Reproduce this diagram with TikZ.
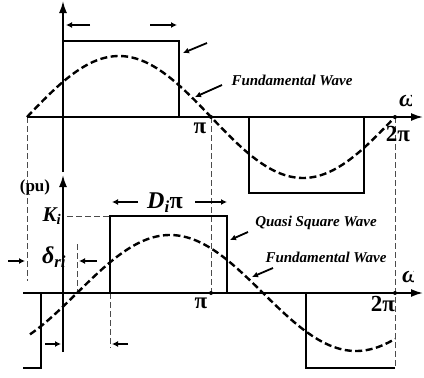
\documentclass[tikz,border=0pt]{standalone}
\usepackage{fontspec}
\setmainfont{Liberation Serif}
\usetikzlibrary{arrows.meta}
\begin{document}
\begin{tikzpicture}[x=1pt,y=-1pt,
  solid line/.style={line width=1.8pt, line join=miter},
  axis/.style={line width=1.8pt, -{Latex[length=12pt,width=8pt]}},
  fund/.style={line width=2.4pt, dash pattern=on 7pt off 3.5pt},
  guide/.style={line width=0.9pt, black!70, dash pattern=on 6pt off 3pt},
  ptr/.style={line width=1.8pt, -{Latex[length=6pt,width=6pt]}},
  dot/.style={circle, fill=black, inner sep=0pt, minimum size=4pt},
  lbl/.style={inner sep=0pt, font=\bfseries\itshape\fontsize{15}{15}\selectfont},
  big/.style={inner sep=0pt, font=\bfseries\fontsize{23}{23}\selectfont},
  bigit/.style={inner sep=0pt, font=\bfseries\itshape\fontsize{24}{24}\selectfont}]
\useasboundingbox (0,0) rectangle (424,378);

% ---------- guides ----------
\draw[guide] (27,117) -- (27,281);
\draw[guide] (211,117) -- (211,293);
\draw[guide] (395,117) -- (395,368);
\draw[guide] (77,244) -- (77,293);
\draw[guide] (110,293) -- (110,348);
\draw[guide] (67,216) -- (110,216);

% ---------- top plot ----------
\draw[axis] (27,117) -- (423,117);
\draw[axis] (63,172) -- (63,1);
\draw[solid line] (63,117) -- (63,41) -- (179,41) -- (179,117);
\draw[solid line] (249,117) -- (249,193) -- (364,193) -- (364,117);
\draw[fund] plot[domain=27:395, samples=120] (\x, {117-61*sin((\x-27)/184*180)});
\node[dot] (pi1) at (211,117) {};
\node[dot] (tpi1) at (395,117) {};
\node[big] (pilab1) at (200,128) {π};
\node[big] (tpilab1) at (398,134) {2π};
\draw[ptr] (90,25) -- (66,25);
\draw[ptr] (150,25) -- (177,25);
\draw[ptr] (207,43) -- (183,53);
\node[lbl] (fw1) at (292,80) {Fundamental Wave};
\draw[ptr] (222,85) -- (195,97);
\begin{scope}
\clip (395,88) rectangle (411,112);
\node[bigit, anchor=west] (om1) at (399,100) {ωt};
\end{scope}

% ---------- bottom plot ----------
\draw[axis] (23,293) -- (423,293);
\draw[axis] (63,352) -- (63,175);
\draw[solid line] (23,368) -- (41,368) -- (41,293);
\draw[solid line] (110,293) -- (110,216) -- (227,216) -- (227,293);
\draw[solid line] (306,293) -- (306,368) -- (395,368);
\draw[fund] plot[domain=30:395, samples=120] (\x, {293-58*sin((\x-77)/186*180)});
\node[dot] (pi2) at (211,293) {};
\node[dot] (tpi2) at (395,293) {};
\node[big] (pilab2) at (201,303) {π};
\node[big] (tpilab2) at (383,304) {2π};
\node[inner sep=0pt, font=\bfseries\fontsize{17}{17}\selectfont] (pu) at (35,187) {(pu)};
\node[inner sep=0pt, font=\bfseries\itshape\fontsize{21}{21}\selectfont] (ki) at (52,216) {K\textsubscript{i}};
\node[bigit] (dipi) at (165,203) {D\textsubscript{i}\textup{π}};
\node[bigit] (dri) at (54,257) {δ\textsubscript{ri}};
\draw[ptr] (138,202) -- (112,202);
\draw[ptr] (195,202) -- (227,202);
\draw[ptr] (8,261) -- (25,261);
\draw[ptr] (97,261) -- (79,261);
\draw[ptr] (45,344) -- (61,344);
\draw[ptr] (128,344) -- (112,344);
\node[lbl] (qsw) at (316,223) {Quasi Square Wave};
\draw[ptr] (248,232) -- (230,240);
\node[lbl] (fw2) at (326,257) {Fundamental Wave};
\draw[ptr] (273,268) -- (252,277);
\begin{scope}
\clip (395,262) rectangle (413,288);
\node[bigit, anchor=west] (om2) at (402,276) {ωt};
\end{scope}
\end{tikzpicture}
\end{document}
